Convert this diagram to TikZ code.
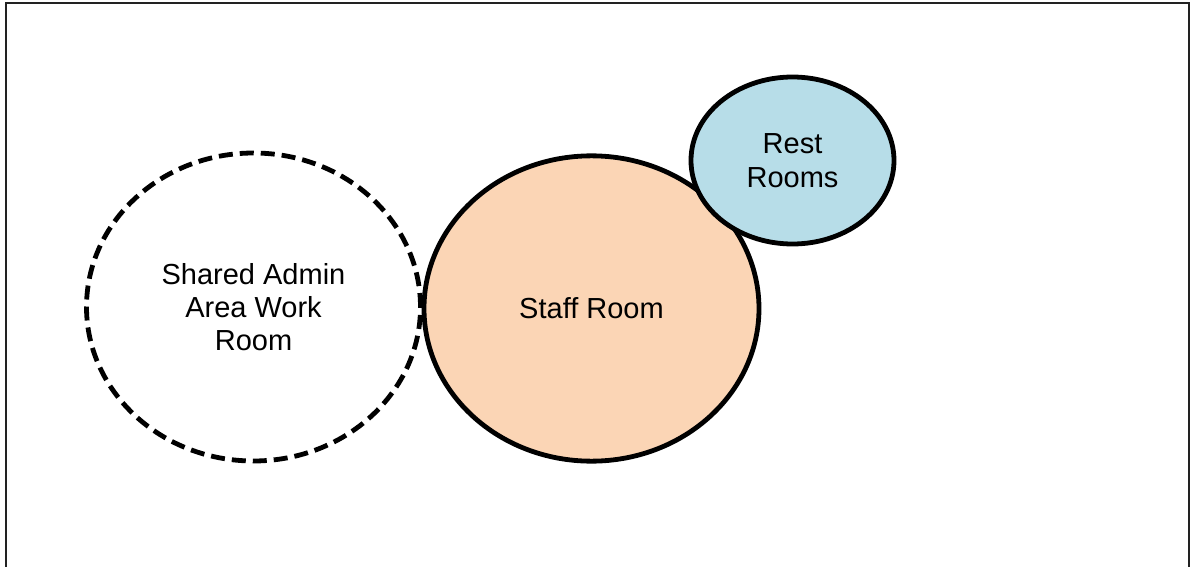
\documentclass[tikz,border=0pt]{standalone}
\usepackage{fontspec}
\setmainfont{Liberation Sans}
\usetikzlibrary{shapes.geometric}
\definecolor{staffpeach}{HTML}{FBD5B5}
\definecolor{restblue}{HTML}{B7DDE8}
\definecolor{framegray}{HTML}{222222}
\begin{document}
\begin{tikzpicture}[x=0.75pt,y=-0.75pt,
  room/.style={ellipse, draw=black, line width=3.6pt, align=center,
    inner sep=0pt, font=\fontsize{21.75}{25}\selectfont},
  planned/.style={room, dash pattern=on 10.5pt off 5.25pt}]
  \useasboundingbox (0,0) rectangle (1190,567);
  % open frame around the plan
  \draw[framegray, line width=1.6pt] (6,567) -- (6,3) -- (1189,3) -- (1189,567);
  % rooms
  \node[planned, minimum width=250.5pt, minimum height=231pt]
    (admin) at (253.5,307) {Shared Admin\\Area Work\\Room};
  \node[room, fill=staffpeach, minimum width=251.25pt, minimum height=229pt]
    (staff) at (591.5,308.5) {Staff Room};
  \node[room, fill=restblue, minimum width=152.25pt, minimum height=125.25pt]
    (rest) at (792.5,160.5) {Rest\\Rooms};
\end{tikzpicture}
\end{document}
